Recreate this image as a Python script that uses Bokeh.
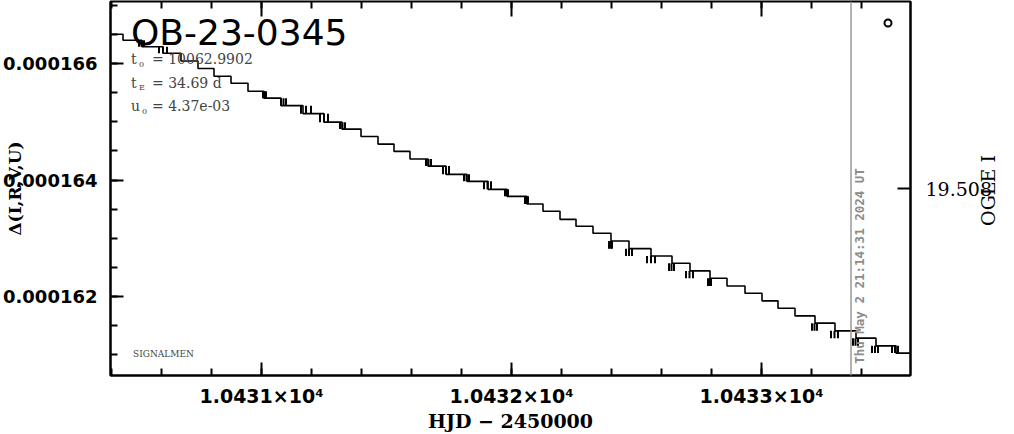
import math
import numpy as np
from bokeh.plotting import figure
from bokeh.models import (Range1d, LinearAxis, FixedTicker, PrintfTickFormatter, Label, Span,
                          CustomJSTickFormatter)
from bokeh.embed import file_html
from bokeh.resources import INLINE

# ---- data ----
# start times (HJD-2450000) of each plateau of the model/step curve
hjd = [10430.398, 10430.446, 10430.522, 10430.606, 10430.678, 10430.746, 10430.810,
       10430.878, 10430.946, 10431.010, 10431.078, 10431.166, 10431.250, 10431.322,
       10431.398, 10431.466, 10431.530, 10431.594, 10431.666, 10431.738, 10431.822,
       10431.906, 10431.982, 10432.062, 10432.126, 10432.194, 10432.258, 10432.326,
       10432.398, 10432.470, 10432.558, 10432.642, 10432.714, 10432.794, 10432.862,
       10432.934, 10433.002, 10433.066, 10433.134, 10433.214, 10433.294, 10433.378,
       10433.458, 10433.538]
hjd_end = 10433.598
# Delta(I,R,V,U) level of each plateau
level = [166.506e-6, 166.403e-6, 166.292e-6, 166.180e-6, 166.048e-6, 165.918e-6, 165.785e-6,
         165.665e-6, 165.528e-6, 165.408e-6, 165.279e-6, 165.142e-6, 164.996e-6, 164.876e-6,
         164.750e-6, 164.618e-6, 164.493e-6, 164.361e-6, 164.240e-6, 164.098e-6, 163.978e-6,
         163.840e-6, 163.720e-6, 163.588e-6, 163.463e-6, 163.325e-6, 163.205e-6, 163.085e-6,
         162.953e-6, 162.821e-6, 162.695e-6, 162.570e-6, 162.438e-6, 162.312e-6, 162.180e-6,
         162.055e-6, 161.923e-6, 161.797e-6, 161.665e-6, 161.540e-6, 161.408e-6, 161.282e-6,
         161.150e-6, 161.025e-6]
# dense data clusters at some transitions: time span and index of plateau reached
cl_start = [10430.510, 10430.590, 10431.006, 10431.078, 10431.158, 10431.234, 10431.314,
            10431.658, 10431.726, 10431.810, 10431.890, 10431.974, 10432.054, 10432.390,
            10432.458, 10432.542, 10432.630, 10432.698, 10432.786, 10433.202, 10433.278,
            10433.366, 10433.442, 10433.522]
cl_end = [10430.530, 10430.622, 10431.018, 10431.098, 10431.198, 10431.266, 10431.334,
          10431.678, 10431.750, 10431.830, 10431.918, 10431.986, 10432.066, 10432.402,
          10432.482, 10432.574, 10432.650, 10432.726, 10432.798, 10433.222, 10433.306,
          10433.386, 10433.466, 10433.546]
cl_idx = [2, 3, 9, 10, 11, 12, 13, 18, 19, 20, 21, 22, 23, 29, 30, 31, 32, 33, 34,
          40, 41, 42, 43, 43]
# single OGLE point
ogle_hjd = [10433.506]
ogle_val = [166.70e-6]
now_hjd = 10433.358
now_text = "Thu May  2 21:14:31 2024 UT"

x_ticks = [10431, 10432, 10433]
x_tick_labels = {10431: "1.0431×10⁴", 10432: "1.0432×10⁴", 10433: "1.0433×10⁴"}
y_ticks = [0.000162, 0.000164, 0.000166]
r_ticks = [19.508]

title = "OB-23-0345"
params = [("t", "0", "= 10062.9902"), ("t", "E", "= 34.69 d"), ("u", "0", "= 4.37e-03")]

X0, X1 = 10430.396, 10433.596
Y0, Y1 = 1.6064e-4, 1.6707e-4
R0, R1 = 19.5095, 19.5065

# ---- helpers to anchor annotations (reference pixel -> data coords) ----
def refx(px):
    return 10431 + (px - 260.5) / 250.0

def refy(py):
    return 1.64e-4 + (180 - py) / 58.25 * 1e-6

def refr(py):
    return R1 + (py - 1) / 375.0 * (R0 - R1)

p = figure(width=1014, height=434,
           x_range=Range1d(X0, X1), y_range=Range1d(Y0, Y1),
           x_axis_type=None, y_axis_type=None,
           output_backend="svg", toolbar_location=None,
           min_border_left=110, min_border_right=104,
           min_border_top=1, min_border_bottom=58)
p.extra_y_ranges = {"ogle": Range1d(R0, R1)}
p.outline_line_color = "black"
p.outline_line_width = 2
p.background_fill_color = "white"
p.border_fill_color = "white"

x_minor = [float(v) for v in np.round(np.arange(10430.4, 10433.61, 0.2), 3)]
y_minor = [float(v) for v in np.round(np.arange(160.5e-6, 167.1e-6, 0.5e-6), 10)]

def style(ax):
    ax.axis_line_color = "black"
    ax.axis_line_width = 2
    ax.major_tick_in = 13
    ax.major_tick_out = 0
    ax.minor_tick_in = 7
    ax.minor_tick_out = 0
    ax.major_tick_line_width = 2
    ax.minor_tick_line_width = 2
    ax.major_tick_line_color = "black"
    ax.minor_tick_line_color = "black"
    ax.axis_label_text_color = "black"
    ax.major_label_text_color = "black"

bottom = LinearAxis(ticker=FixedTicker(ticks=x_ticks, minor_ticks=x_minor),
                    major_label_overrides=x_tick_labels,
                    axis_label="HJD − 2450000")
style(bottom)
bottom.major_label_text_font = "DejaVu Sans"
bottom.major_label_text_font_style = "bold"
bottom.major_label_text_font_size = "19px"
bottom.major_label_standoff = 9
bottom.axis_label_text_font = "DejaVu Serif"
bottom.axis_label_text_font_style = "bold"
bottom.axis_label_text_font_size = "19px"
bottom.axis_label_standoff = 0
p.add_layout(bottom, "below")

left = LinearAxis(ticker=FixedTicker(ticks=y_ticks, minor_ticks=y_minor),
                  formatter=PrintfTickFormatter(format="%.6f"),
                  axis_label="Δ(I,R,V,U)")
style(left)
left.major_label_text_font = "DejaVu Sans"
left.major_label_text_font_style = "bold"
left.major_label_text_font_size = "18px"
left.major_label_standoff = 13
left.axis_label_text_font = "DejaVu Serif"
left.axis_label_text_font_style = "bold"
left.axis_label_text_font_size = "17px"
left.axis_label_standoff = -25
p.add_layout(left, "left")

right = LinearAxis(y_range_name="ogle", ticker=FixedTicker(ticks=r_ticks, minor_ticks=[]),
                   formatter=PrintfTickFormatter(format="%.3f"))
style(right)
right.major_label_text_font = "DejaVu Serif"
right.major_label_text_font_size = "19px"
right.major_label_standoff = 15
p.add_layout(right, "right")

# "OGLE I" title of the right axis, drawn as a rotated label of an extra tickless axis
right_title = LinearAxis(y_range_name="ogle",
                         ticker=FixedTicker(ticks=[refr(226)], minor_ticks=[]),
                         formatter=CustomJSTickFormatter(code="return 'OGLE I'"))
right_title.axis_line_color = None
right_title.major_tick_line_color = None
right_title.minor_tick_line_color = None
right_title.major_tick_in = 0
right_title.major_tick_out = 0
right_title.minor_tick_in = 0
right_title.minor_tick_out = 0
right_title.major_label_orientation = math.pi / 2
right_title.major_label_standoff = -6
right_title.major_label_text_font = "DejaVu Serif"
right_title.major_label_text_font_size = "19px"
right_title.major_label_text_color = "black"
p.add_layout(right_title, "right")

# top-edge tick marks (no labels)
p.ray(x=x_ticks, y=[Y1] * len(x_ticks), length=15, length_units="screen",
      angle=-90, angle_units="deg", line_color="black", line_width=2)
p.ray(x=x_minor, y=[Y1] * len(x_minor), length=7, length_units="screen",
      angle=-90, angle_units="deg", line_color="black", line_width=2)

# ---- marks ----
p.step(hjd + [hjd_end], level + [level[-1]], mode="after", line_color="black", line_width=1.6)
seg_x, seg_top, seg_bot = [], [], []
for a, b, i in zip(cl_start, cl_end, cl_idx):
    for xx in (a, (a + b) / 2, b):
        seg_x.append(xx)
        seg_top.append(level[i - 1])
        seg_bot.append(level[i])
p.segment(x0=seg_x, x1=seg_x, y0=seg_top, y1=seg_bot, line_color="black", line_width=2)
p.scatter(ogle_hjd, ogle_val, marker="circle", size=7, fill_color=None,
          line_color="black", line_width=2)

p.add_layout(Span(location=now_hjd, dimension="height", line_color="#999999", line_width=1.5))
p.add_layout(Label(x=now_hjd, x_offset=8, y=refy(364), text=now_text, angle=90, angle_units="deg",
                   text_align="left", text_baseline="middle", text_font="DejaVu Sans Mono",
                   text_font_style="bold", text_font_size="12.5px", text_color="#8c8c8c"))

# ---- texts ----
p.add_layout(Label(x=refx(130), y=refy(32), text=title, text_font="DejaVu Sans",
                   text_font_size="36px", text_align="left", text_baseline="middle",
                   text_color="black"))
rows = [59, 82.5, 106]
for (a, sub, rest), ry in zip(params, rows):
    p.add_layout(Label(x=refx(130), y=refy(ry), text=a, text_font="DejaVu Serif",
                       text_font_size="14px", text_align="left", text_baseline="middle"))
    p.add_layout(Label(x=refx(138 if a == "t" else 141), y=refy(ry + 5), text=sub,
                       text_font="DejaVu Serif", text_font_size="8px",
                       text_align="left", text_baseline="middle"))
    p.add_layout(Label(x=refx(151), y=refy(ry), text=rest, text_font="DejaVu Serif",
                       text_font_size="14px", text_align="left", text_baseline="middle"))

p.add_layout(Label(x=refx(132), y=refy(354), text="SIGNALMEN", text_font="DejaVu Serif",
                   text_font_size="9px", text_align="left", text_baseline="middle"))

p.xgrid.visible = False
p.ygrid.visible = False

open("out.html", "w").write(file_html(p, INLINE))
